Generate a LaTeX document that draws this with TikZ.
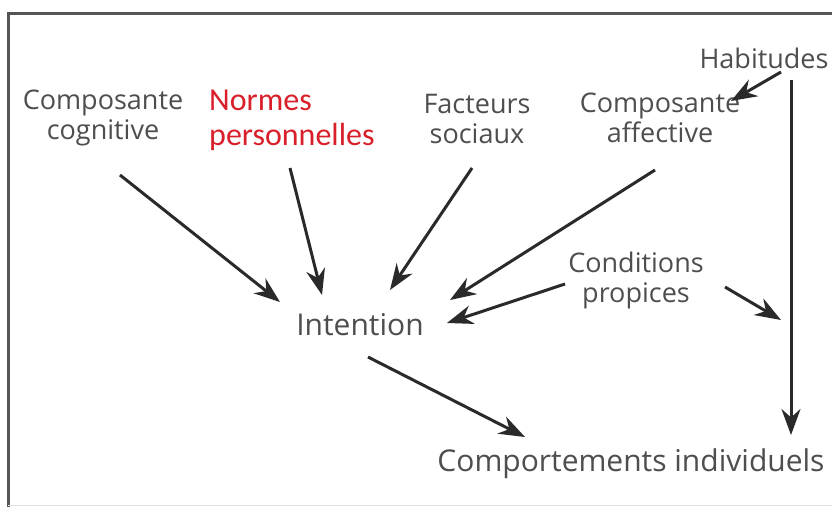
\documentclass[tikz,border=0pt]{standalone}
\usepackage{fontspec}
\setmainfont{Open Sans}
\newfontfamily\redfont{Carlito}
\usetikzlibrary{arrows.meta}
\definecolor{txtgray}{HTML}{4E4E4E}
\definecolor{arrgray}{HTML}{2A2A2A}
\definecolor{redtxt}{HTML}{D9202A}
\tikzset{
  lbl/.style={text=txtgray, font=\fontsize{27}{30}\selectfont, align=center, inner sep=0pt},
  biglbl/.style={lbl, font=\fontsize{30}{33}\selectfont},
  arr/.style={draw=arrgray, line width=3pt, -{Stealth[length=26pt,width=19pt]}},
}
\begin{document}
\begin{tikzpicture}[x=1pt,y=-1pt]
\useasboundingbox (0,0) rectangle (832,506);
\clip (0,0) rectangle (832,506);
\fill[white] (0,0) rectangle (832,506);
% frame
\draw[line width=3pt, draw=arrgray!80] (8,520) -- (8,13) -- (850,13);
\draw[line width=1pt, draw=black!12] (8,505) -- (850,505);
% labels
\node[lbl] (cog) at (103,118) {Composante\\cognitive};
\node[text=redtxt, font=\redfont\fontsize{32}{35}\selectfont, align=left, inner sep=0pt, anchor=west] (nor) at (209,120) {Normes\\personnelles};
\node[lbl] (fac) at (477,119) {Facteurs\\sociaux};
\node[lbl] (aff) at (660,118) {Composante\\affective};
\node[lbl] (hab) at (764,58) {Habitudes};
\node[lbl] (cond) at (636,280) {Conditions\\propices};
\node[biglbl] (int) at (360,325) {Intention};
\node[biglbl] (comp) at (631,464) {Comportements individuels};
% connector endpoints
\coordinate (v1) at (791,80);
\coordinate (v2) at (791,435);
\coordinate (vm) at (781,320);
% arrows
\draw[arr] (120,175) -- (280,302);
\draw[arr] (290,168) -- (322,295);
\draw[arr] (472,168) -- (390,290);
\draw[arr] (655,170) -- (450,300);
\draw[arr] (565,284) -- (447,323);
\draw[arr] (368,357) -- (525,437);
\draw[arr] (781,72) -- (731,101);
\draw[arr] (v1) -- (v2);
\draw[arr] (725,287) -- (vm);
\end{tikzpicture}
\end{document}
